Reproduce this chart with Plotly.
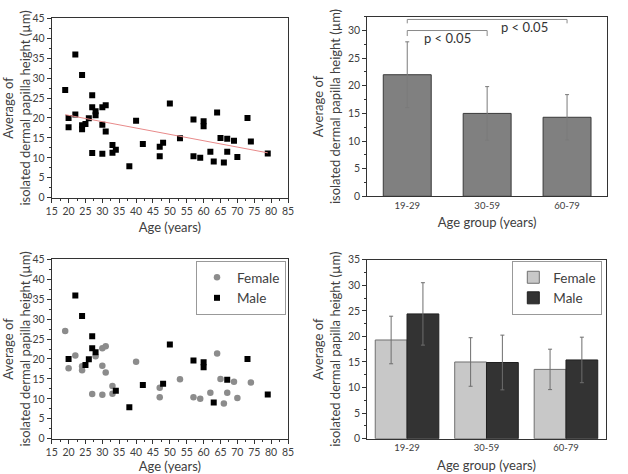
import numpy as np
import plotly.graph_objects as go

# ---------------- data ----------------
female_age = [19, 20, 22, 24, 24, 27, 28, 30, 30, 30, 31, 31, 33, 33, 40, 47, 47, 53,
              57, 59, 62, 64, 65, 66, 67, 69, 70, 74]
female_height = [27.0, 17.7, 20.9, 18.2, 17.2, 11.2, 20.7, 18.3, 11.0, 22.7, 23.2, 16.6,
                 13.2, 11.3, 19.3, 12.8, 10.4, 14.9, 10.4, 10.0, 11.5, 21.4, 15.0, 8.8,
                 11.5, 14.3, 10.2, 14.1]
male_age = [20, 22, 24, 25, 26, 27, 27, 28, 34, 38, 42, 48, 50, 57, 60, 60, 63, 67, 73, 79]
male_height = [20.0, 35.9, 30.8, 18.5, 19.9, 25.7, 22.7, 21.7, 12.0, 7.9, 13.5, 13.8,
               23.6, 19.6, 19.2, 17.9, 9.1, 14.8, 20.0, 11.1]

groups = ["19-29", "30-59", "60-79"]
group_mean = [22.0, 15.0, 14.3]
group_sd = [5.95, 4.85, 4.1]

female_mean = [19.3, 15.0, 13.55]
female_sd = [4.65, 4.75, 3.95]
male_mean = [24.4, 14.9, 15.4]
male_sd = [6.1, 5.35, 4.45]

p_label = "p < 0.05"

# ---------------- figure ----------------
all_age = np.array(female_age + male_age, dtype=float)
all_h = np.array(female_height + male_height, dtype=float)
slope, intercept = np.polyfit(all_age, all_h, 1)
fit_x = np.array([all_age.min(), all_age.max()])
fit_y = slope * fit_x + intercept

FONT = "Lato"
TXT = "#404040"
fig = go.Figure()

# top-left: all points + fit
fig.add_trace(go.Scatter(x=all_age, y=all_h, mode="markers",
                         marker=dict(symbol="square", size=6, color="black"),
                         showlegend=False, xaxis="x", yaxis="y"))
fig.add_trace(go.Scatter(x=fit_x, y=fit_y, mode="lines",
                         line=dict(color="#e88a8a", width=1),
                         showlegend=False, xaxis="x", yaxis="y"))

# top-right: group bars
fig.add_trace(go.Bar(x=groups, y=group_mean,
                     error_y=dict(type="data", array=group_sd, color="#7a7a7a",
                                  thickness=1, width=2),
                     marker=dict(color="#808080", line=dict(color="#3a3a3a", width=1)),
                     width=0.6, showlegend=False, xaxis="x2", yaxis="y2"))

# bottom-left: female / male scatter
fig.add_trace(go.Scatter(x=female_age, y=female_height, mode="markers", name="Female",
                         marker=dict(symbol="circle", size=6.5, color="#8c8c8c"),
                         legend="legend", xaxis="x3", yaxis="y3"))
fig.add_trace(go.Scatter(x=male_age, y=male_height, mode="markers", name="Male",
                         marker=dict(symbol="square", size=6, color="black"),
                         legend="legend", xaxis="x3", yaxis="y3"))

# bottom-right: grouped bars
fig.add_trace(go.Bar(x=groups, y=female_mean, name="Female",
                     error_y=dict(type="data", array=female_sd, color="#6e6e6e",
                                  thickness=1, width=2),
                     marker=dict(color="#c8c8c8", line=dict(color="#707070", width=1)),
                     legend="legend2", xaxis="x4", yaxis="y4"))
fig.add_trace(go.Bar(x=groups, y=male_mean, name="Male",
                     error_y=dict(type="data", array=male_sd, color="#6e6e6e",
                                  thickness=1, width=2),
                     marker=dict(color="#333333", line=dict(color="#202020", width=1)),
                     legend="legend2", xaxis="x4", yaxis="y4"))

W, H = 628, 474
def xd(a, b):
    return [a / W, b / W]
def yd(top, bottom):
    return [1 - bottom / H, 1 - top / H]

axis_common = dict(showline=True, linecolor="#333333", linewidth=1, mirror=True,
                   showgrid=False, zeroline=False, ticks="outside", ticklen=4,
                   tickcolor="#333333", automargin=False,
                   tickfont=dict(size=10.5, color=TXT, family=FONT))
ytitle = "Average of<br>isolated dermal papilla height (µm)"
title_font = dict(size=13, color=TXT, family=FONT)
cat_font = dict(size=9.5, color=TXT, family=FONT)

minor = dict(ticks="outside", ticklen=2, tickcolor="#333333", dtick=2.5)

fig.update_layout(
    width=W, height=H, margin=dict(l=0, r=0, t=0, b=0, autoexpand=False),
    paper_bgcolor="white", plot_bgcolor="white",
    font=dict(family=FONT, color=TXT),
    barmode="group", bargap=0.2, bargroupgap=0,
    xaxis=dict(domain=xd(51.7, 288), anchor="y", range=[15, 85], dtick=5, minor=minor,
               title=dict(text="Age (years)", font=title_font, standoff=6), **axis_common),
    yaxis=dict(domain=yd(18.3, 197.7), anchor="x", range=[0, 45], dtick=5, minor=minor,
               title=dict(text=ytitle, font=title_font, standoff=4), **axis_common),
    xaxis2=dict(domain=xd(367.3, 607), anchor="y2", range=[-0.5, 2.5],
                title=dict(text="Age group (years)", font=title_font, standoff=8),
                **{**axis_common, "ticks": "", "tickfont": cat_font}),
    yaxis2=dict(domain=yd(16.7, 196.3), anchor="x2", range=[0, 32.5], dtick=5, minor=minor,
                title=dict(text=ytitle, font=title_font, standoff=4), **axis_common),
    xaxis3=dict(domain=xd(51.7, 288), anchor="y3", range=[15, 85], dtick=5, minor=minor,
                title=dict(text="Age (years)", font=title_font, standoff=6), **axis_common),
    yaxis3=dict(domain=yd(259.3, 438.7), anchor="x3", range=[0, 45], dtick=5, minor=minor,
                title=dict(text=ytitle, font=title_font, standoff=4), **axis_common),
    xaxis4=dict(domain=xd(367.3, 605.7), anchor="y4", range=[-0.5, 2.5],
                title=dict(text="Age group (years)", font=title_font, standoff=8),
                **{**axis_common, "ticks": "", "tickfont": cat_font}),
    yaxis4=dict(domain=yd(259.7, 438.7), anchor="x4", range=[0, 35], dtick=5, minor=minor,
                title=dict(text=ytitle, font=title_font, standoff=4), **axis_common),
    legend=dict(x=286 / W, y=1 - 261 / H, xanchor="right", yanchor="top",
                bordercolor="#999999", borderwidth=1, bgcolor="white",
                font=dict(size=13.5, color=TXT, family=FONT), tracegroupgap=0),
    legend2=dict(x=602.3 / W, y=1 - 261 / H, xanchor="right", yanchor="top",
                 bordercolor="#999999", borderwidth=1, bgcolor="white",
                 font=dict(size=13.5, color=TXT, family=FONT), tracegroupgap=0),
)

# significance brackets (top-right)
br = dict(type="line", xref="x2", yref="y2", line=dict(color="#8a8a8a", width=1))
for (a, b, top, leg) in [(0, 2, 32.0, 31.3), (0, 1, 30.0, 29.0)]:
    fig.add_shape(x0=a, x1=b, y0=top, y1=top, **br)
    fig.add_shape(x0=a, x1=a, y0=leg, y1=top, **br)
    fig.add_shape(x0=b, x1=b, y0=leg, y1=top, **br)
fig.add_annotation(x=0.5, y=28.7, xref="x2", yref="y2", text=p_label, showarrow=False,
                   font=dict(size=13, color="#333333", family=FONT))
fig.add_annotation(x=1.47, y=30.55, xref="x2", yref="y2", text=p_label, showarrow=False,
                   font=dict(size=13, color="#333333", family=FONT))

fig.write_html("out.html")
